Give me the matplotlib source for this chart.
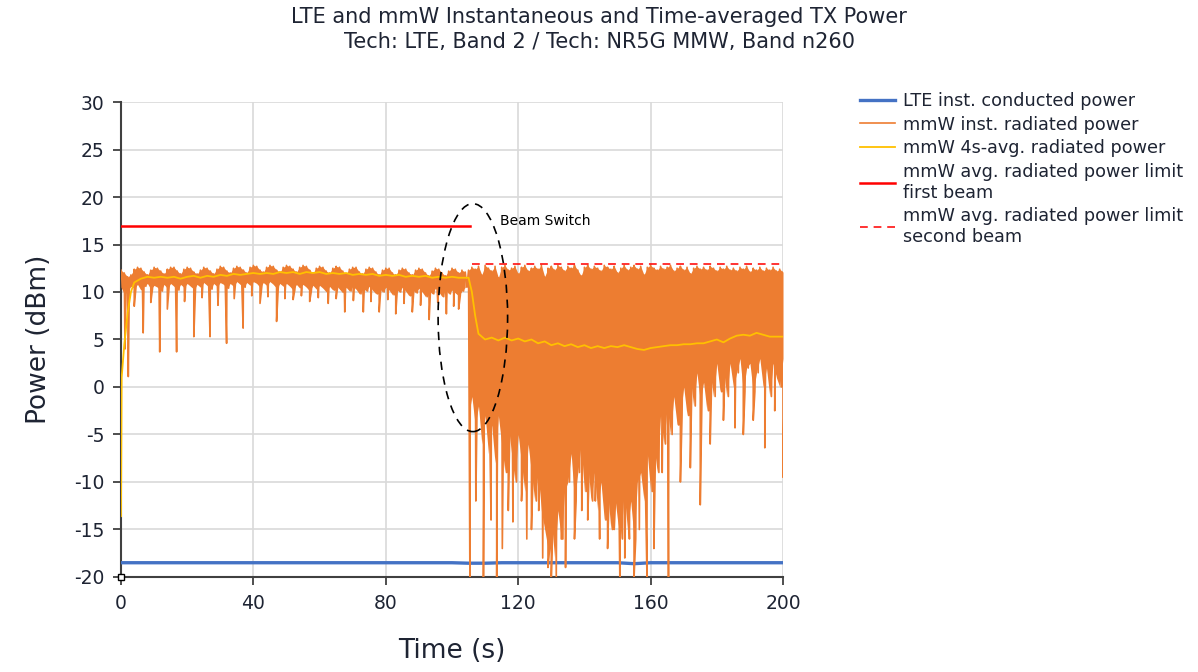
import numpy as np
import matplotlib
matplotlib.use("Agg")
import matplotlib.pyplot as plt
from matplotlib.patches import Ellipse

plt.rcParams['axes.unicode_minus'] = False

# ---- data ----
# mmW instantaneous power, first beam (0..104 s): per-second upper / lower band values
inst1_hi = [12.3, 12.0, 11.6, 11.8, 12.4, 12.6, 12.5, 12.1, 11.8, 12.3,
            12.6, 12.5, 12.2, 11.9, 12.4, 12.6, 12.6, 12.2, 11.9, 12.4,
            12.6, 12.5, 12.1, 11.9, 12.3, 12.6, 12.5, 12.2, 11.9, 12.4,
            12.7, 12.6, 12.2, 12.0, 12.5, 12.7, 12.6, 12.3, 12.0, 12.6,
            12.8, 12.7, 12.3, 12.1, 12.6, 12.8, 12.7, 12.3, 12.1, 12.6,
            12.8, 12.7, 12.4, 12.1, 12.6, 12.8, 12.7, 12.3, 12.0, 12.5,
            12.7, 12.6, 12.2, 12.0, 12.5, 12.7, 12.6, 12.2, 11.9, 12.4,
            12.6, 12.6, 12.1, 11.9, 12.4, 12.6, 12.5, 12.1, 11.8, 12.3,
            12.5, 12.5, 12.0, 11.8, 12.3, 12.5, 12.4, 12.0, 11.8, 12.3,
            12.5, 12.4, 12.0, 11.7, 12.2, 12.5, 12.4, 12.0, 11.7, 12.2,
            12.5, 12.4, 12.0, 12.3, 12.1]
inst1_lo = [10.5, 9.8, 10.2, 10.6, 10.4, 10.8, 10.2, 10.6, 10.9, 10.3,
            10.7, 10.5, 10.1, 10.8, 10.4, 10.9, 10.6, 10.2, 10.8, 10.5,
            10.9, 10.6, 10.3, 10.8, 10.5, 11.0, 10.7, 10.3, 10.9, 10.6,
            11.0, 10.8, 10.4, 10.9, 10.6, 11.1, 10.8, 10.5, 11.0, 10.7,
            11.1, 10.9, 10.5, 11.0, 10.7, 11.1, 10.8, 10.4, 10.9, 10.6,
            10.9, 10.6, 10.2, 10.8, 10.4, 10.8, 10.5, 10.1, 10.7, 10.3,
            10.7, 10.4, 10.0, 10.6, 10.2, 10.7, 10.3, 9.9, 10.5, 10.1,
            10.6, 10.3, 9.8, 10.5, 10.1, 10.6, 10.2, 9.8, 10.4, 10.0,
            10.5, 10.2, 9.7, 10.4, 10.0, 10.5, 10.1, 9.6, 10.3, 9.9,
            10.4, 10.0, 9.5, 10.2, 9.8, 10.4, 10.0, 9.5, 10.3, 9.8,
            10.2, 9.9, 9.6, 10.1, 10.5]
dips1_t = [1.2, 2.2, 4.0, 6.7, 9.0, 11.7, 14.0, 16.8, 19.2, 22.0,
           24.5, 26.9, 29.3, 31.9, 34.2, 36.9, 39.5, 42.0, 44.4, 47.0,
           49.5, 52.0, 54.5, 57.0, 59.6, 62.6, 65.0, 67.6, 70.2, 73.2,
           75.5, 78.0, 80.6, 83.0, 85.5, 88.0, 90.5, 93.1, 95.7, 98.3,
           100.5, 102.0]
dips1_y = [4.0, 1.1, 8.5, 5.7, 8.9, 3.7, 8.2, 3.7, 9.0, 5.3,
           9.4, 5.3, 8.6, 4.6, 9.3, 6.2, 9.6, 8.8, 9.5, 6.9,
           9.3, 9.2, 9.6, 9.0, 9.4, 8.8, 9.3, 7.9, 9.1, 7.9,
           9.0, 7.9, 9.2, 7.7, 8.8, 7.9, 8.6, 7.1, 8.9, 7.7,
           8.5, 8.2]

# second beam (105..200 s)
inst2_hi = [12.3, 12.6, 12.4, 12.7, 11.8, 12.8, 12.5, 12.2, 12.7, 11.5,
            12.6, 12.8, 12.3, 12.5, 12.7, 11.9, 12.6, 12.8, 12.2, 12.5,
            12.7, 12.4, 12.8, 11.6, 12.5, 12.7, 12.3, 12.8, 12.6, 12.2,
            12.7, 12.5, 12.8, 12.3, 11.7, 12.6, 12.8, 12.4, 12.7, 12.5,
            12.2, 12.8, 12.6, 12.4, 12.7, 12.0, 12.5, 12.8, 12.3, 12.6,
            12.8, 12.4, 12.7, 11.8, 12.6, 12.8, 12.5, 12.3, 12.7, 12.4,
            12.6, 12.8, 12.2, 12.5, 12.7, 12.3, 12.6, 11.9, 12.5, 12.7,
            12.4, 12.6, 12.3, 12.7, 12.5, 12.2, 12.6, 12.4, 12.7, 12.3,
            12.5, 12.2, 12.6, 12.4, 12.7, 12.1, 12.5, 12.3, 12.6, 12.2,
            12.5, 12.3, 12.6, 12.2, 12.4, 12.1]
inst2_lo = [-3, -1, -4, -2, -6, -3, -7, -4, -8, -3,
            -6, -9, -4, -7, -10, -5, -8, -11, -6, -9,
            -12, -9, -13, -15, -17, -14, -18, -13, -16, -11,
            -10, -7, -12, -9, -6, -11, -8, -12, -9, -13,
            -10, -14, -11, -15, -11, -14, -16, -11, -15, -12,
            -16, -10, -9, -12, -7, -11, -6, -9, -3, -6,
            -2, -5, -1, -4, -3, 0, -3, 1, -2, 1.5,
            -1.5, 0.5, -2.5, 1.5, -1, 2.5, -0.5, 2, -1, 2.5,
            0, 1.5, 3, -0.5, 2, 2.5, -0.5, 1.5, 3, 0,
            2, -1, 2.5, 1, 0, 3]
dips2_t = [105.4, 107.2, 109.5, 111.8, 113.5, 115.2, 117.0, 118.4, 121.0, 122.6,
           124.0, 126.2, 127.4, 129.0, 130.0, 131.5, 133.0, 134.3, 137.0, 139.2,
           141.0, 143.3, 144.6, 147.0, 149.0, 150.7, 152.2, 153.6, 155.0, 156.6,
           158.9, 161.0, 163.5, 165.4, 169.0, 172.0, 175.0, 178.0, 182.0, 185.5,
           188.0, 191.0, 194.5, 197.5, 200.0]
dips2_y = [-20, -12, -20, -14, -20, -17, -13, -14.2, -12, -16,
           -15, -13, -18, -19, -20, -20, -16, -19, -16, -13,
           -14, -12, -16, -17, -15, -20, -18, -16, -20, -15,
           -20, -17, -9, -20, -10, -8.5, -12.4, -6, -3.5, -4.3,
           -5, -3.5, -6.4, -2.5, -9.5]

# 4 s average
avg_t = [0, 0.2, 1, 2, 3, 4] + list(range(6, 105, 2)) + [105, 106, 107, 108] + list(range(110, 201, 2))
avg_y = [-13.6, 1.0, 4.5, 7.8, 10.0, 11.0,
         11.4, 11.6, 11.5, 11.6, 11.5, 11.6, 11.4, 11.6, 11.7, 11.5,
         11.7, 11.6, 11.8, 11.7, 11.9, 11.8, 11.9, 12.0, 11.9, 12.0,
         11.9, 12.1, 12.0, 12.1, 11.9, 12.1, 12.0, 12.1, 11.9, 12.0,
         11.9, 12.0, 11.8, 11.9, 11.8, 11.9, 11.7, 11.8, 11.7, 11.8,
         11.6, 11.7, 11.6, 11.7, 11.5, 11.6, 11.5, 11.6, 11.5, 11.5,
         11.5, 10.0, 7.5, 5.6,
         5.0, 5.2, 4.9, 5.2, 4.9, 5.1, 4.8, 5.0, 4.6, 4.8,
         4.4, 4.6, 4.3, 4.5, 4.2, 4.4, 4.1, 4.3, 4.1, 4.3,
         4.2, 4.4, 4.2, 4.0, 3.9, 4.1, 4.2, 4.3, 4.4, 4.4,
         4.5, 4.5, 4.6, 4.6, 4.8, 5.0, 4.7, 5.1, 5.4, 5.5,
         5.4, 5.7, 5.5, 5.3, 5.3, 5.3]

lte_t = list(range(0, 201, 5))
lte_y = [-18.5, -18.5, -18.5, -18.5, -18.5, -18.5, -18.5, -18.5, -18.5, -18.5,
         -18.5, -18.5, -18.5, -18.5, -18.5, -18.5, -18.5, -18.5, -18.5, -18.5,
         -18.5, -18.55, -18.55, -18.5, -18.5, -18.5, -18.5, -18.5, -18.5, -18.5,
         -18.5, -18.6, -18.5, -18.5, -18.5, -18.5, -18.5, -18.5, -18.5, -18.5,
         -18.5]

limit1_t = [0, 105.4]
limit1_y = [16.9, 16.9]
limit2_t = [106, 200]
limit2_y = [12.9, 12.9]

BLUE = '#4472C4'
ORANGE = '#ED7D31'
YELLOW = '#FFC000'
RED = '#FF0000'
TXT = '#1e2433'


def zigzag(t0, hi, lo, dip_t, dip_y):
    # alternate upper and lower readings, then slot the spikes in by time
    t = np.arange(len(hi)) + t0
    xs = np.concatenate([t, t + 0.5, dip_t])
    ys = np.concatenate([hi, lo, dip_y])
    order = np.argsort(xs, kind='stable')
    return xs[order], ys[order]


x1, y1 = zigzag(0, inst1_hi, inst1_lo, dips1_t, dips1_y)
x2, y2 = zigzag(105, inst2_hi, inst2_lo, dips2_t, dips2_y)
inst_x = np.concatenate([x1, x2])
inst_y = np.concatenate([y1, y2])

fig = plt.figure(figsize=(11.98, 6.72), dpi=100)
ax = fig.add_axes([0.101, 0.1414, 0.5526, 0.7068])

ax.plot(lte_t, lte_y, color=BLUE, lw=2.4, label='LTE inst. conducted power', zorder=3)
# dense oscillation: fill the band between the per-second readings, line on top for the spikes
ax.fill_between(np.arange(len(inst1_hi)), inst1_lo, inst1_hi, color=ORANGE, lw=0, zorder=4)
ax.fill_between(np.arange(len(inst2_hi)) + 105, inst2_lo, inst2_hi, color=ORANGE, lw=0, zorder=4)
ax.plot(inst_x, inst_y, color=ORANGE, lw=1.2, label='mmW inst. radiated power', zorder=4)
ax.plot(avg_t, avg_y, color=YELLOW, lw=1.3, label='mmW 4s-avg. radiated power', zorder=5)
ax.plot(limit1_t, limit1_y, color=RED, lw=1.8,
        label='mmW avg. radiated power limit\nfirst beam', zorder=5)
ax.plot(limit2_t, limit2_y, color=RED, lw=1.4, ls=(0, (4, 3)), alpha=0.8,
        label='mmW avg. radiated power limit\nsecond beam', zorder=5)

ax.add_patch(Ellipse((106.3, 7.3), 21, 24, fill=False, ec='black', lw=1.2,
                     ls=(0, (5, 4)), zorder=6))
ax.text(114.5, 17.5, 'Beam Switch', fontsize=10, color='black', va='center', ha='left')

ax.set_xlim(0, 200)
ax.set_ylim(-20, 30)
ax.set_xticks([0, 40, 80, 120, 160, 200])
ax.set_yticks(np.arange(-20, 31, 5))
ax.grid(True, color='#d9d9d9', lw=1.2)
ax.set_axisbelow(True)
for s in ['top', 'right']:
    ax.spines[s].set_visible(False)
for s in ['left', 'bottom']:
    ax.spines[s].set_color('#404040')
    ax.spines[s].set_linewidth(1.5)
ax.tick_params(direction='out', length=6, width=1.3, color='#404040',
               labelsize=13.5, labelcolor=TXT, pad=6)
ax.plot(0, -20, marker='s', ms=5, mfc='white', mec='black', mew=1,
        clip_on=False, zorder=10)

ax.set_xlabel('Time (s)', fontsize=19, color=TXT, labelpad=18)
ax.set_ylabel('Power (dBm)', fontsize=19, color=TXT, labelpad=16)

fig.suptitle('LTE and mmW Instantaneous and Time-averaged TX Power\n'
             'Tech: LTE, Band 2 / Tech: NR5G MMW, Band n260',
             fontsize=15, color=TXT, y=0.99, linespacing=1.3)

leg = ax.legend(loc='upper left', bbox_to_anchor=(844 / 1198, 1 - 76 / 672),
                bbox_transform=fig.transFigure, frameon=False, fontsize=12.7,
                handlelength=2.0, handletextpad=0.45, labelspacing=0.32,
                labelcolor=TXT)

fig.savefig('out.png', dpi=100)
